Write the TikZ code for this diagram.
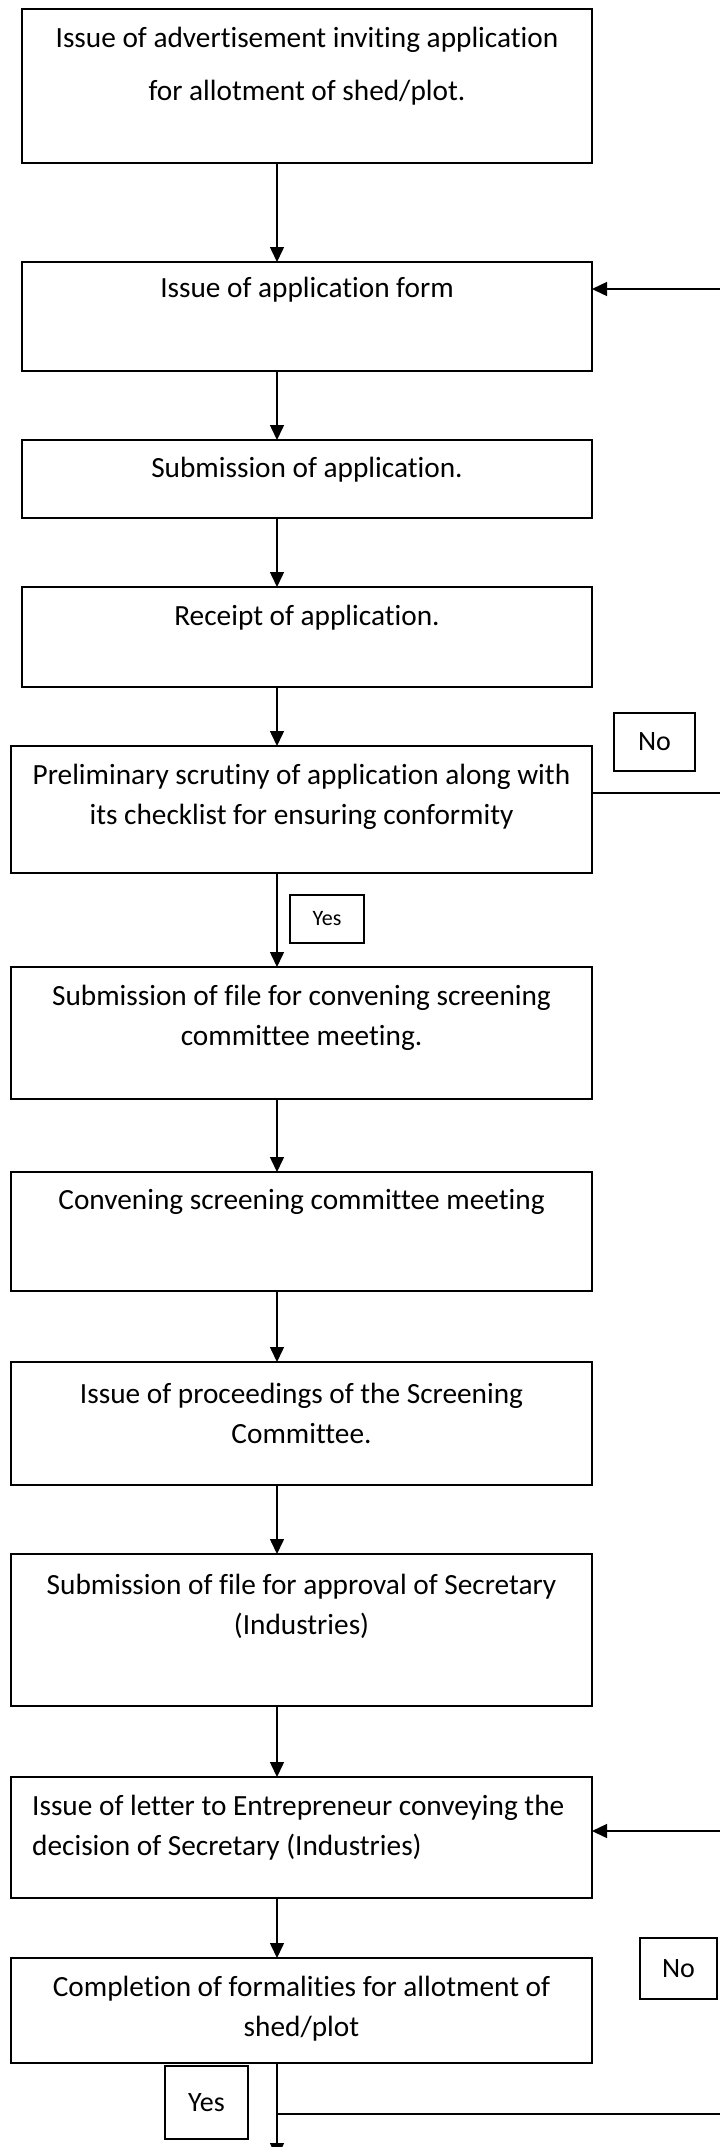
\documentclass[tikz,border=0pt]{standalone}
\usepackage{fontspec}
\setmainfont{Carlito}[Ligatures={NoCommon}]
\usetikzlibrary{arrows.meta}

\tikzset{
  stepbox/.style={draw=black, line width=1.5pt, inner sep=0pt, outer sep=0pt},
  steptext/.style={inner sep=0pt, align=center, font=\fontsize{29.3}{40}\selectfont},
  tagbox/.style={draw=black, line width=1.5pt, inner sep=0pt, outer sep=0pt, font=\fontsize{28}{34}\selectfont},
  flow/.style={line width=1.5pt, -{Triangle[length=15pt, width=14pt]}},
  plain/.style={line width=1.5pt}
}

\begin{document}
\begin{tikzpicture}[x=1pt, y=-1pt]
\useasboundingbox (0,0) rectangle (720,2147);

% process boxes
\node[stepbox, minimum width=570pt, minimum height=154pt] (b1) at (307,86) {};
\node[stepbox, minimum width=570pt, minimum height=109pt] (b2) at (307,316.5) {};
\node[stepbox, minimum width=570pt, minimum height=78pt]  (b3) at (307,479) {};
\node[stepbox, minimum width=570pt, minimum height=100pt] (b4) at (307,637) {};
\node[stepbox, minimum width=581pt, minimum height=127pt] (b5) at (301.5,809.5) {};
\node[stepbox, minimum width=581pt, minimum height=132pt] (b6) at (301.5,1033) {};
\node[stepbox, minimum width=581pt, minimum height=119pt] (b7) at (301.5,1231.5) {};
\node[stepbox, minimum width=581pt, minimum height=123pt] (b8) at (301.5,1423.5) {};
\node[stepbox, minimum width=581pt, minimum height=152pt] (b9) at (301.5,1630) {};
\node[stepbox, minimum width=581pt, minimum height=121pt] (b10) at (301.5,1837.5) {};
\node[stepbox, minimum width=581pt, minimum height=105pt] (b11) at (301.5,2010.5) {};

% box texts
\node[steptext, font=\fontsize{29.3}{53}\selectfont] (t1) at (307,66.5)
  {Issue of advertisement inviting application\\for allotment of shed/plot.};
\node[steptext] (t2) at (307,290) {Issue of application form};
\node[steptext] (t3) at (307,470) {Submission of application.};
\node[steptext] (t4) at (307,618) {Receipt of application.};
\node[steptext] (t5) at (301.5,797)
  {Preliminary scrutiny of application along with\\its checklist for ensuring conformity};
\node[steptext] (t6) at (301.5,1018)
  {Submission of file for convening screening\\committee meeting.};
\node[steptext] (t7) at (301.5,1202) {Convening screening committee meeting};
\node[steptext] (t8) at (301.5,1413)
  {Issue of proceedings of the Screening\\Committee.};
\node[steptext] (t9) at (301.5,1606)
  {Submission of file for approval of Secretary\\(Industries)};
\node[steptext, align=left, anchor=west] (t10) at (32,1827.5)
  {Issue of letter to Entrepreneur conveying the\\decision of Secretary (Industries)};
\node[steptext] (t11) at (301.5,2009)
  {Completion of formalities for allotment of\\shed/plot};

% decision tags
\node[tagbox, minimum width=81pt, minimum height=58pt] (no1) at (654.5,742) {No};
\node[tagbox, minimum width=74pt, minimum height=48pt, font=\fontsize{22}{26}\selectfont] (yes1) at (327,919) {Yes};
\node[tagbox, minimum width=77pt, minimum height=61pt] (no2) at (678.5,1968.5) {No};
\node[tagbox, minimum width=83pt, minimum height=73pt] (yes2) at (206.5,2102.5) {Yes};

% reference coordinates for the main spine and the side returns
\coordinate (spine) at (277,0);
\coordinate (ret1) at (720,289);
\coordinate (out1) at (720,793);
\coordinate (ret2) at (720,1831);
\coordinate (out2) at (720,2114);
\coordinate (tail) at (277,2158);

% main flow
\draw[flow] (spine |- b1.south) -- (spine |- b2.north);
\draw[flow] (spine |- b2.south) -- (spine |- b3.north);
\draw[flow] (spine |- b3.south) -- (spine |- b4.north);
\draw[flow] (spine |- b4.south) -- (spine |- b5.north);
\draw[flow] (spine |- b5.south) -- (spine |- b6.north);
\draw[flow] (spine |- b6.south) -- (spine |- b7.north);
\draw[flow] (spine |- b7.south) -- (spine |- b8.north);
\draw[flow] (spine |- b8.south) -- (spine |- b9.north);
\draw[flow] (spine |- b9.south) -- (spine |- b10.north);
\draw[flow] (spine |- b10.south) -- (spine |- b11.north);
\draw[flow] (spine |- b11.south) -- (tail);

% side branches
\draw[flow] (ret1) -- (ret1 -| b2.east);
\draw[plain] (out1 -| b5.east) -- (out1);
\draw[flow] (ret2) -- (ret2 -| b10.east);
\draw[plain] (spine |- out2) -- (out2);
\end{tikzpicture}
\end{document}
